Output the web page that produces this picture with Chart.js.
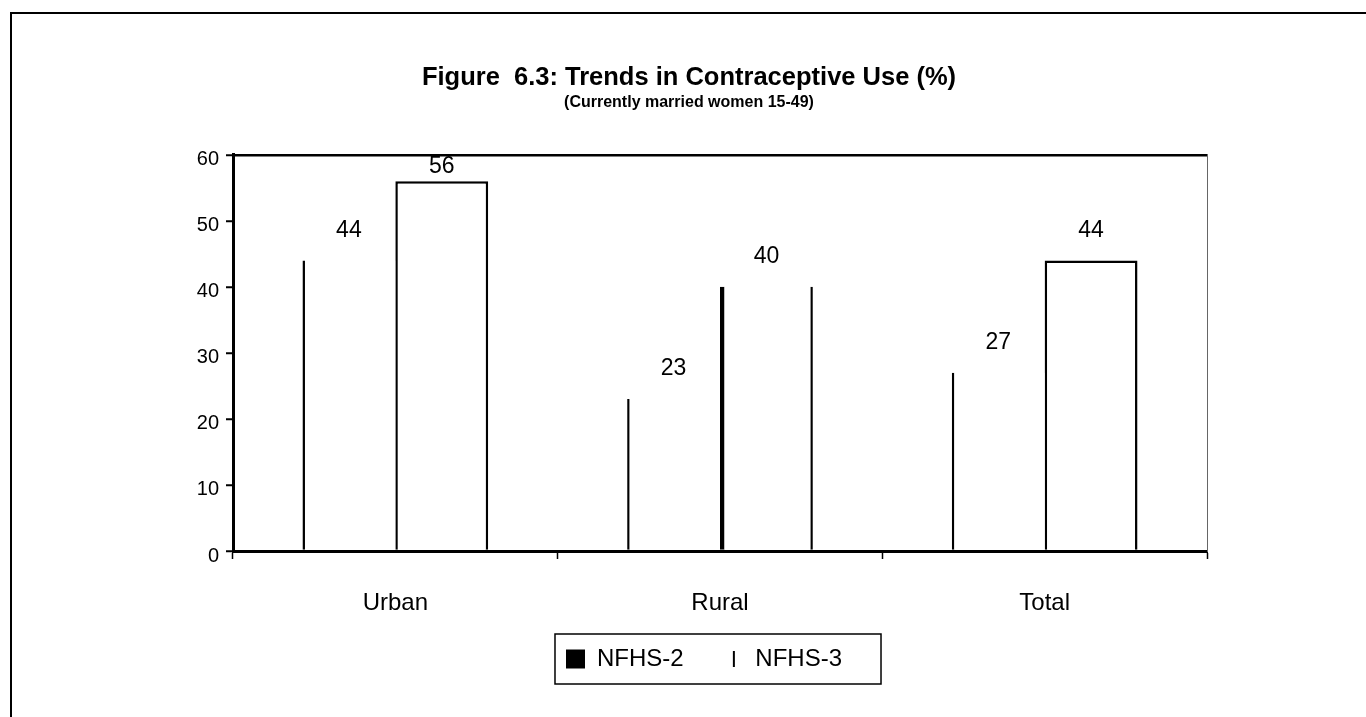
<!DOCTYPE html>
<html>
<head>
  <meta charset="UTF-8">
  <title>Trends in Contraceptive Use</title>
  <script src="https://cdn.jsdelivr.net/npm/chart.js"></script>
  <style>
    html, body {
      margin: 0;
      padding: 0;
      background: #fff;
      overflow: hidden;
    }
    .frame {
      position: absolute;
      left: 10px;
      top: 12px;
      width: 1400px;
      height: 800px;
      border-left: 2px solid #000;
      border-top: 2px solid #000;
    }
    .wrap {
      position: absolute;
      left: 0;
      top: 0;
      width: 1366px;
      height: 717px;
    }
  </style>
</head>
<body>
  <div class="frame"></div>
  <div class="wrap">
    <canvas id="chart" width="1366" height="717"></canvas>
  </div>

  <script>
    const categories = ['Urban', 'Rural', 'Total'];
    const nfhs2 = [44, 23, 27];
    const nfhs3 = [56, 40, 44];
    const seriesNames = ['NFHS-2', 'NFHS-3'];
    const yMin = 0, yMax = 60, yStep = 10;

    const FONT = "'Liberation Sans', Arial, sans-serif";

    // little vertical stroke used as the NFHS-3 legend marker
    const marker = document.createElement('canvas');
    marker.width = 18;
    marker.height = 18;
    const mctx = marker.getContext('2d');
    mctx.fillStyle = '#000';
    mctx.fillRect(8, 1, 2, 16);

    // bars: white fill, only some edges drawn
    function edges(ctx) {
      if (ctx.datasetIndex === 0) return { left: 2.5, top: 0, right: 0, bottom: 0 };
      if (ctx.dataIndex === 1) return { left: 4.5, top: 0, right: 2.5, bottom: 0 };
      return { left: 2.5, top: 2.5, right: 2.5, bottom: 0 };
    }

    // value labels above each bar
    const valueLabels = {
      id: 'valueLabels',
      afterDatasetsDraw(chart) {
        const ctx = chart.ctx;
        ctx.save();
        ctx.font = '23px ' + FONT;
        ctx.fillStyle = '#000';
        ctx.textAlign = 'center';
        ctx.textBaseline = 'middle';
        chart.data.datasets.forEach((ds, i) => {
          chart.getDatasetMeta(i).data.forEach((bar, j) => {
            const y = Math.max(bar.y - 30, chart.chartArea.top + 12);
            ctx.fillText(String(ds.data[j]), bar.x, y);
          });
        });
        ctx.restore();
      }
    };

    // nudge the legend a little to the right, as in the original
    const legendShift = {
      id: 'legendShift',
      afterLayout(chart) {
        chart.legend.left += 15;
        chart.legend.right += 15;
      }
    };

    // box round the legend
    const legendBox = {
      id: 'legendBox',
      afterDraw(chart) {
        const hb = chart.legend.legendHitBoxes;
        if (!hb || !hb.length) return;
        const last = hb[hb.length - 1];
        const left = hb[0].left - 11;
        const right = last.left + last.width + 39;
        const cy = hb[0].top + hb[0].height / 2;
        const ctx = chart.ctx;
        ctx.save();
        ctx.strokeStyle = '#000';
        ctx.lineWidth = 1.5;
        ctx.strokeRect(left, cy - 25, right - left, 50);
        ctx.restore();
      }
    };

    new Chart(document.getElementById('chart'), {
      type: 'bar',
      data: {
        labels: categories,
        datasets: [
          {
            label: seriesNames[0],
            data: nfhs2,
            backgroundColor: '#fff',
            borderColor: '#000',
            borderWidth: edges
          },
          {
            label: seriesNames[1],
            data: nfhs3,
            backgroundColor: '#fff',
            borderColor: '#000',
            borderWidth: edges
          }
        ]
      },
      options: {
        responsive: false,
        animation: false,
        layout: { padding: { left: 12, right: 0, top: 0, bottom: 36 } },
        datasets: {
          bar: {
            categoryPercentage: 0.572,
            barPercentage: 1,
            borderSkipped: false,
            inflateAmount: 0
          }
        },
        scales: {
          x: {
            offset: true,
            grid: {
              offset: true,
              drawOnChartArea: false,
              drawTicks: true,
              tickLength: 8,
              tickColor: '#000',
              tickWidth: 1.5
            },
            border: { display: true, color: '#000', width: 3 },
            ticks: {
              color: '#000',
              padding: 30,
              font: { family: FONT, size: 24 }
            },
            afterFit: s => { s.height = 82; }
          },
          y: {
            min: yMin,
            max: yMax,
            ticks: {
              stepSize: yStep,
              color: '#000',
              padding: 7,
              labelOffset: 5,
              font: { family: FONT, size: 20 }
            },
            grid: {
              drawOnChartArea: true,
              color: c => (c.tick && c.tick.value === yMax) ? '#000' : 'rgba(0,0,0,0)',
              lineWidth: 2.5,
              tickLength: 7,
              tickColor: '#000',
              tickWidth: 2
            },
            border: { display: true, color: '#000', width: 3 },
            afterFit: s => { s.width = 221; }
          },
          y2: {
            position: 'right',
            grid: { display: false },
            ticks: { display: false },
            border: { display: true, color: '#666', width: 1 },
            afterFit: s => { s.width = 159; }
          }
        },
        plugins: {
          title: {
            display: true,
            text: 'Figure  6.3: Trends in Contraceptive Use (%)',
            color: '#000',
            font: { family: FONT, size: 25.5, weight: 'bold', lineHeight: 1.12 },
            padding: { top: 64, bottom: 0 }
          },
          subtitle: {
            display: true,
            text: '(Currently married women 15-49)',
            color: '#000',
            font: { family: FONT, size: 16, weight: 'bold' },
            padding: { top: 0, bottom: 43 }
          },
          legend: {
            position: 'bottom',
            labels: {
              usePointStyle: true,
              boxWidth: 19,
              boxHeight: 19,
              padding: 14,
              color: '#000',
              font: { family: FONT, size: 24 },
              generateLabels: chart => chart.data.datasets.map((ds, i) => ({
                // trailing spaces widen the gap between the two entries
                text: i === 0 ? ds.label + '    ' : ds.label,
                fillStyle: '#000',
                strokeStyle: '#000',
                lineWidth: 0,
                pointStyle: i === 0 ? 'rect' : marker,
                hidden: false,
                datasetIndex: i,
                fontColor: '#000'
              }))
            }
          },
          tooltip: { enabled: false }
        }
      },
      plugins: [legendShift, valueLabels, legendBox]
    });
  </script>
</body>
</html>
